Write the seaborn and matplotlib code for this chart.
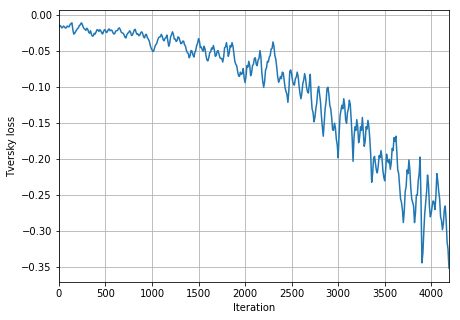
import matplotlib
matplotlib.use("Agg")
import matplotlib.pyplot as plt
import seaborn as sns
import pandas as pd

# loss read every 20 iterations (0..4180) plus the last iteration 4190
iteration = list(range(0, 4200, 20)) + [4190]
loss = [
    -0.0157, -0.0150, -0.0168, -0.0160, -0.0172, -0.0158, -0.0130, -0.0105, -0.0262, -0.0225, -0.0185,
    -0.0140, -0.0105, -0.0160, -0.0195, -0.0180, -0.0235, -0.0215, -0.0290, -0.0250, -0.0230,
    -0.0205, -0.0200, -0.0245, -0.0225, -0.0210, -0.0230, -0.0190, -0.0205, -0.0240, -0.0255,
    -0.0215, -0.0185, -0.0200, -0.0245, -0.0270, -0.0315, -0.0250, -0.0215, -0.0280, -0.0240,
    -0.0195, -0.0265, -0.0285, -0.0240, -0.0255, -0.0315, -0.0265, -0.0330, -0.0410, -0.0480,
    -0.0490, -0.0410, -0.0350, -0.0300, -0.0265, -0.0340, -0.0320, -0.0275, -0.0430, -0.0300,
    -0.0230, -0.0330, -0.0365, -0.0300, -0.0350, -0.0390, -0.0360, -0.0430, -0.0520, -0.0590,
    -0.0490, -0.0550, -0.0520, -0.0420, -0.0325, -0.0450, -0.0480, -0.0430, -0.0560, -0.0635,
    -0.0520, -0.0455, -0.0420, -0.0570, -0.0500, -0.0540, -0.0600, -0.0650, -0.0450, -0.0380,
    -0.0570, -0.0420, -0.0380, -0.0540, -0.0680, -0.0780, -0.0850, -0.0820, -0.0740, -0.0935,
    -0.0700, -0.0640, -0.0840, -0.0700, -0.0600, -0.0680, -0.0620, -0.0490, -0.0800, -0.1000,
    -0.0760, -0.0640, -0.0580, -0.0470, -0.0370, -0.0560, -0.0720, -0.0930, -0.0850, -0.0790,
    -0.0900, -0.1060, -0.1210, -0.0780, -0.0820, -0.0960, -0.0880, -0.0790, -0.0980, -0.1160,
    -0.0950, -0.0810, -0.1000, -0.1080, -0.0820, -0.1300, -0.1480, -0.1300, -0.1050, -0.1100,
    -0.1400, -0.1680, -0.1300, -0.1020, -0.1100, -0.1300, -0.1590, -0.1500, -0.1720, -0.1980,
    -0.1400, -0.1250, -0.1160, -0.1450, -0.1350, -0.1180, -0.1450, -0.2030, -0.1550, -0.1450,
    -0.1770, -0.1550, -0.1420, -0.1820, -0.1550, -0.1460, -0.1720, -0.2320, -0.2000, -0.2050,
    -0.2190, -0.1950, -0.1880, -0.2150, -0.2300, -0.1930, -0.2050, -0.2140, -0.1850, -0.1700,
    -0.1680, -0.2150, -0.2370, -0.2600, -0.2880, -0.2450, -0.2150, -0.2010, -0.2400, -0.2600,
    -0.2880, -0.2500, -0.2300, -0.1970, -0.3440, -0.3000, -0.2600, -0.2220, -0.2650, -0.2750,
    -0.2580, -0.2700, -0.2200, -0.2450, -0.2800, -0.2980, -0.2700, -0.2850, -0.3250, -0.3514,
]
# loss read in between, at iterations 10, 30, ..., 4170
iteration_mid = list(range(10, 4180, 20))
loss_mid = [
    -0.0140, -0.0175, -0.0150, -0.0178, -0.0150, -0.0160, -0.0115, -0.0200, -0.0250, -0.0205,
    -0.0175, -0.0135, -0.0120, -0.0185, -0.0210, -0.0195, -0.0250, -0.0265, -0.0285, -0.0260,
    -0.0200, -0.0225, -0.0215, -0.0260, -0.0200, -0.0240, -0.0200, -0.0215, -0.0210, -0.0260,
    -0.0220, -0.0210, -0.0175, -0.0235, -0.0250, -0.0305, -0.0270, -0.0240, -0.0235, -0.0275,
    -0.0205, -0.0240, -0.0260, -0.0275, -0.0230, -0.0300, -0.0270, -0.0310, -0.0355, -0.0455,
    -0.0505, -0.0440, -0.0395, -0.0315, -0.0300, -0.0290, -0.0355, -0.0310, -0.0350, -0.0390,
    -0.0270, -0.0265, -0.0330, -0.0350, -0.0310, -0.0395, -0.0360, -0.0410, -0.0490, -0.0530,
    -0.0560, -0.0500, -0.0580, -0.0490, -0.0390, -0.0360, -0.0440, -0.0500, -0.0470, -0.0620,
    -0.0590, -0.0510, -0.0470, -0.0480, -0.0560, -0.0490, -0.0590, -0.0600, -0.0580, -0.0440,
    -0.0460, -0.0520, -0.0440, -0.0430, -0.0640, -0.0700, -0.0840, -0.0790, -0.0810, -0.0870,
    -0.0850, -0.0720, -0.0700, -0.0800, -0.0680, -0.0590, -0.0700, -0.0600, -0.0580, -0.0920,
    -0.0920, -0.0730, -0.0650, -0.0560, -0.0460, -0.0430, -0.0610, -0.0850, -0.0900, -0.0880,
    -0.0800, -0.1010, -0.1100, -0.1050, -0.0760, -0.0910, -0.0970, -0.0860, -0.0850, -0.1090,
    -0.1080, -0.0900, -0.0880, -0.1060, -0.0960, -0.1120, -0.1350, -0.1420, -0.1220, -0.0990,
    -0.1200, -0.1550, -0.1490, -0.1200, -0.1000, -0.1250, -0.1420, -0.1600, -0.1560, -0.1800,
    -0.1650, -0.1320, -0.1300, -0.1250, -0.1500, -0.1300, -0.1240, -0.1700, -0.1700, -0.1600,
    -0.1550, -0.1700, -0.1600, -0.1620, -0.1750, -0.1580, -0.1550, -0.1950, -0.2200, -0.1960,
    -0.2150, -0.2100, -0.1980, -0.1970, -0.2250, -0.2150, -0.2020, -0.2000, -0.2050, -0.1880,
    -0.1750, -0.1900, -0.2200, -0.2550, -0.2700, -0.2720, -0.2380, -0.2200, -0.2150, -0.2550,
    -0.2650, -0.2750, -0.2500, -0.2200, -0.2600, -0.3300, -0.2750, -0.2450, -0.2350, -0.2800,
    -0.2650, -0.2600, -0.2500, -0.2300, -0.2550, -0.2850, -0.2900, -0.2650, -0.3150,
]
xticks = [0, 500, 1000, 1500, 2000, 2500, 3000, 3500, 4000]
yticks = [0.0, -0.05, -0.10, -0.15, -0.20, -0.25, -0.30, -0.35]

df = pd.concat([
    pd.DataFrame({"Iteration": iteration, "Tversky loss": loss}),
    pd.DataFrame({"Iteration": iteration_mid, "Tversky loss": loss_mid}),
]).sort_values("Iteration").reset_index(drop=True)

fig = plt.figure(figsize=(460 / 72, 320 / 72), dpi=72)
ax = fig.add_axes([0.128, 0.119, 0.848, 0.849])
sns.lineplot(data=df, x="Iteration", y="Tversky loss", ax=ax, color="#1f77b4",
             linewidth=1.5, estimator=None, sort=False)
ax.grid(True, color="#b0b0b0", linewidth=0.8)
ax.set_axisbelow(True)
ax.set_xlim(0, 4190)
ax.set_xticks(xticks)
ax.set_yticks(yticks)
ax.set_ylim(-0.3705, 0.007)
fig.savefig("out.png", dpi=72)
